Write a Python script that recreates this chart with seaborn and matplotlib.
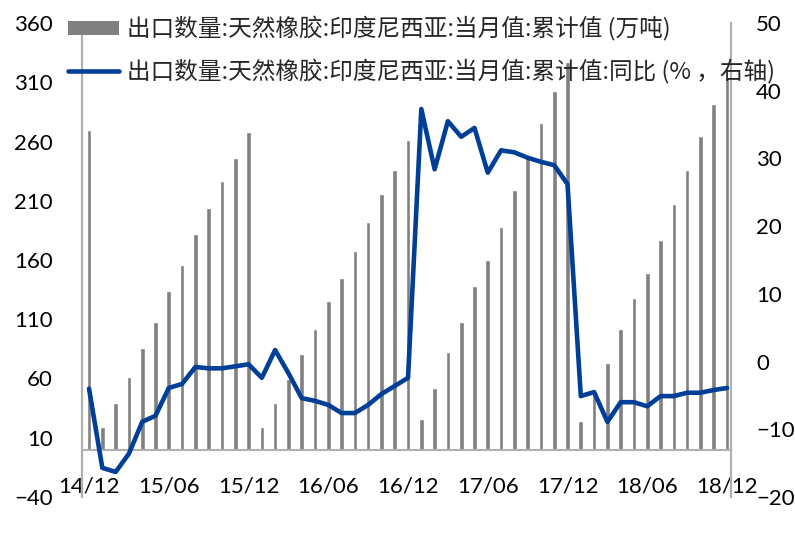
import numpy as np
import pandas as pd
import matplotlib
matplotlib.use("Agg")
import matplotlib.pyplot as plt
import seaborn as sns
from matplotlib.patches import Patch
from matplotlib.lines import Line2D

# Monthly labels, Dec 2014 .. Dec 2018
months = list(pd.date_range("2014-12-01", "2018-12-01", freq="MS").strftime("%y/%m"))

# Indonesia natural rubber exports, cumulative year-to-date (10k tonnes)
export_cum = [270, 19, 39, 61, 86, 108, 134, 156, 182, 204, 227, 246, 268,
              19, 39, 60, 81, 102, 125, 145, 168, 192, 216, 236, 261,
              26, 52, 82, 108, 138, 160, 188, 219, 248, 276, 303, 327,
              24, 48, 73, 102, 128, 149, 177, 207, 236, 265, 292, 314]

# Year-over-year change of the cumulative value (%)
export_yoy = [-4.0, -15.7, -16.3, -13.6, -8.9, -8.0, -3.9, -3.3, -0.8, -1.0, -1.0, -0.7, -0.4,
              -2.4, 1.7, -1.7, -5.4, -5.8, -6.4, -7.6, -7.6, -6.4, -4.8, -3.6, -2.4,
              37.3, 28.4, 35.5, 33.2, 34.5, 27.9, 31.2, 30.9, 30.1, 29.5, 29.0, 26.2,
              -5.1, -4.5, -8.9, -6.0, -6.0, -6.6, -5.1, -5.1, -4.6, -4.6, -4.2, -3.9]

left_ticks = [-40, 10, 60, 110, 160, 210, 260, 310, 360]
right_ticks = [-20, -10, 0, 10, 20, 30, 40, 50]
shown_months = ["14/12", "15/06", "15/12", "16/06", "16/12", "17/06", "17/12", "18/06", "18/12"]

label_bar = "出口数量:天然橡胶:印度尼西亚:当月值:累计值 (万吨)"
label_line = "出口数量:天然橡胶:印度尼西亚:当月值:累计值:同比 (% ，右轴)"

BAR_GRAY = "#808080"
LINE_BLUE = "#003F98"
AXIS_GRAY = "#B0B0B0"

sns.set_style("white")
plt.rcParams["font.family"] = ["Lato", "DejaVu Sans"]

df = pd.DataFrame({"month": months, "cum": export_cum, "yoy": export_yoy})
df["pos"] = np.arange(len(df))

fig = plt.figure(figsize=(7.95, 5.43), dpi=100)
ax = fig.add_axes([82 / 795, 1 - 497 / 543, (731 - 82) / 795, (497 - 23) / 543])

sns.barplot(data=df, x="month", y="cum", color=BAR_GRAY, width=0.35,
            saturation=1, ax=ax, zorder=2)
ax.axhline(0, color=AXIS_GRAY, lw=1.5, zorder=3)

ax2 = ax.twinx()
sns.lineplot(data=df, x="pos", y="yoy", color=LINE_BLUE, lw=3.3, ax=ax2,
             zorder=4, sort=False)

# Axis ranges
ax.set_xlim(-0.53, len(df) - 1 + 0.3)
ax.set_ylim(-40, 360)
ax2.set_ylim(-20, 50)
ax.set_yticks(left_ticks)
ax2.set_yticks(right_ticks)

tick_idx = [months.index(m) for m in shown_months]
ax.set_xticks(tick_idx)
ax.set_xticklabels(shown_months)

for a in (ax, ax2):
    a.set_xlabel("")
    a.set_ylabel("")
    for side in ("top", "bottom"):
        a.spines[side].set_visible(False)
    for side in ("left", "right"):
        a.spines[side].set_color(AXIS_GRAY)
        a.spines[side].set_linewidth(1.5)

ax.tick_params(axis="x", length=0, pad=-15, labelsize=16, colors="black")
ax.tick_params(axis="y", length=0, pad=21, labelsize=16, colors="black")
ax2.tick_params(axis="y", length=0, pad=18, labelsize=16, colors="black")

handles = [Patch(facecolor=BAR_GRAY, edgecolor="none"),
           Line2D([0], [0], color=LINE_BLUE, lw=3.3)]
leg = ax2.legend(handles, [label_bar, label_line], loc="upper left",
                 bbox_to_anchor=(68 / 795, 1 - 16 / 543),
                 bbox_transform=fig.transFigure, frameon=False,
                 borderpad=0, borderaxespad=0, handlelength=2.16,
                 handleheight=0.55, handletextpad=0.34, labelspacing=0.76,
                 prop={"family": ["Noto Sans CJK SC", "DejaVu Sans"], "size": 17})

fig.savefig("out.png", dpi=100)
